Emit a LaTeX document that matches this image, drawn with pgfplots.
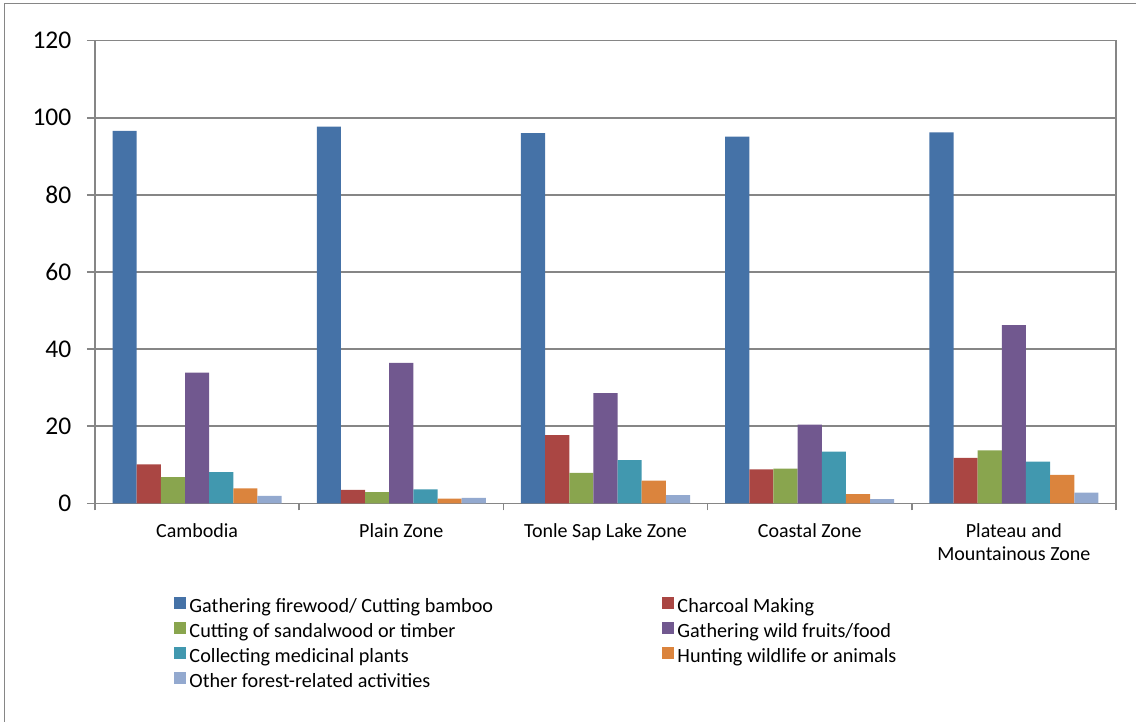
\documentclass[border=0pt]{standalone}
\usepackage{fontspec}
\setmainfont{Carlito}
\usepackage{pgfplots}
\pgfplotsset{compat=1.18}
\definecolor{gridgray}{HTML}{868686}
\definecolor{c1}{HTML}{4572A7}
\definecolor{c2}{HTML}{AA4643}
\definecolor{c3}{HTML}{89A54E}
\definecolor{c4}{HTML}{71588F}
\definecolor{c5}{HTML}{4198AF}
\definecolor{c6}{HTML}{DB843D}
\definecolor{c7}{HTML}{93A9CF}
\newcommand{\lw}[1]{\makebox[469pt][l]{#1}}
\begin{document}
\begin{tikzpicture}
\useasboundingbox (-95pt,-217.7pt) rectangle (1041pt,503.3pt);
\draw[gridgray, line width=1pt] (-90pt,-230pt) -- (-90pt,499.3pt) -- (1060pt,499.3pt);
\begin{axis}[
  at={(0pt,0pt)}, anchor=south west,
  scale only axis, width=1021pt, height=462.6pt,
  xmin=-0.5, xmax=4.5, ymin=0, ymax=120,
  ybar=0pt, bar width=24.15pt,
  ytick={0,20,...,120},
  ymajorgrids, grid style={gridgray, line width=1.5pt},
  axis line style={gridgray, line width=1.5pt},
  xtick={0,1,2,3,4},
  xticklabels={Cambodia, Plain Zone, Tonle Sap Lake Zone, Coastal Zone, {Plateau and\\Mountainous Zone}},
  minor xtick={-0.5,0.5,1.5,2.5,3.5,4.5},
  tick align=outside, xtick pos=bottom, ytick pos=left,
  major tick length=8pt, minor tick length=7pt,
  major x tick style={draw=none},
  minor x tick style={gridgray, line width=1.5pt},
  major y tick style={gridgray, line width=1.5pt},
  /pgf/number format/assume math mode=true,
  y tick label style={font=\fontsize{25.5}{30}\selectfont, inner sep=0pt, xshift=-15.5pt},
  x tick label style={font=\fontsize{20}{22.7}\selectfont, align=center, inner sep=0pt, yshift=-12pt},
  legend columns=2,
  legend cell align=left,
  legend image code/.code={\fill[#1,draw=none] (0pt,-1pt) rectangle (12pt,10.8pt);},
  legend style={draw=none, fill=none, inner sep=0pt, outer sep=0pt,
    font=\fontsize{20.2}{22.7}\selectfont,
    at={(0.07738,-0.2026)}, anchor=north west,
    row sep=4.9pt,
    nodes={inner xsep=3.5pt, inner ysep=0pt, text height=14pt, text depth=4.5pt}},
]
\addplot[fill=c1, draw=none] coordinates {(0,96.6) (1,97.7) (2,96.0) (3,95.1) (4,96.2)};
\addlegendentry{\lw{Gathering firewood/ Cutting bamboo}}
\addplot[fill=c2, draw=none] coordinates {(0,10.1) (1,3.5) (2,17.7) (3,8.8) (4,11.8)};
\addlegendentry{Charcoal Making}
\addplot[fill=c3, draw=none] coordinates {(0,6.8) (1,2.9) (2,7.9) (3,9.0) (4,13.7)};
\addlegendentry{\lw{Cutting of sandalwood or timber}}
\addplot[fill=c4, draw=none] coordinates {(0,33.9) (1,36.4) (2,28.6) (3,20.4) (4,46.2)};
\addlegendentry{Gathering wild fruits/food}
\addplot[fill=c5, draw=none] coordinates {(0,8.1) (1,3.6) (2,11.2) (3,13.4) (4,10.8)};
\addlegendentry{\lw{Collecting medicinal plants}}
\addplot[fill=c6, draw=none] coordinates {(0,3.9) (1,1.2) (2,5.9) (3,2.4) (4,7.4)};
\addlegendentry{Hunting wildlife or animals}
\addplot[fill=c7, draw=none] coordinates {(0,1.9) (1,1.4) (2,2.1) (3,1.1) (4,2.8)};
\addlegendentry{\lw{Other forest-related activities}}
\end{axis}
\end{tikzpicture}
\end{document}
